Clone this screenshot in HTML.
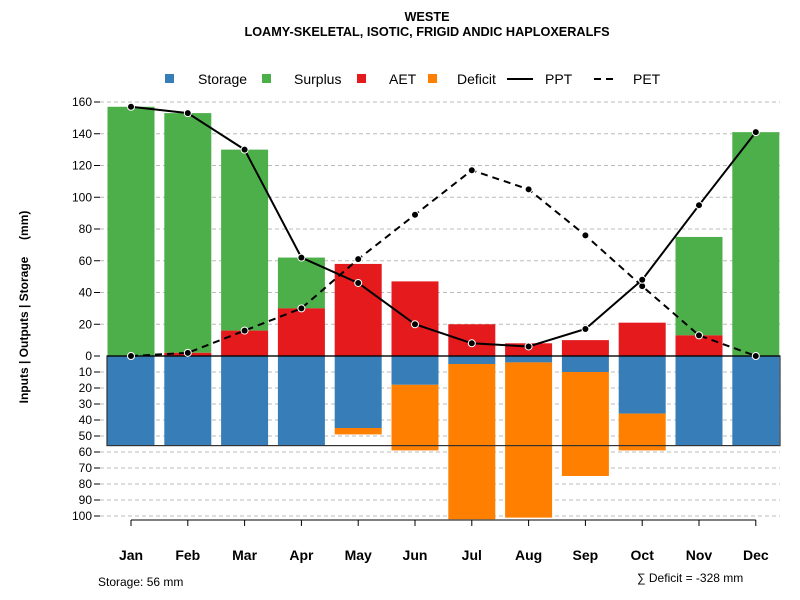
<!DOCTYPE html>
<html><head><meta charset="utf-8"><style>
body{margin:0;background:#fff;}
svg{display:block;font-family:"Liberation Sans",sans-serif;}
</style></head><body>
<svg id="chart" width="800" height="600" viewBox="0 0 800 600">
<text x="427" y="21" text-anchor="middle" font-size="12.7" font-weight="bold">WESTE</text>
<text x="427" y="36" text-anchor="middle" font-size="12.7" font-weight="bold">LOAMY-SKELETAL, ISOTIC, FRIGID ANDIC HAPLOXERALFS</text>
<g id="legend" font-size="14">
<rect x="165" y="74" width="9" height="9" fill="#377eb8"/>
<text x="198" y="84">Storage</text>
<rect x="262" y="74" width="9" height="9" fill="#4daf4a"/>
<text x="294" y="84">Surplus</text>
<rect x="357" y="74" width="9" height="9" fill="#e41a1c"/>
<text x="389" y="84">AET</text>
<rect x="428" y="74" width="9" height="9" fill="#ff7f00"/>
<text x="457" y="84">Deficit</text>
<line x1="507" y1="79" x2="533" y2="79" stroke="#000" stroke-width="2"/>
<text x="545" y="84">PPT</text>
<line x1="594" y1="79" x2="618" y2="79" stroke="#000" stroke-width="2" stroke-dasharray="7,5"/>
<text x="633" y="84">PET</text>
</g>
<g id="grid"></g><g id="bars"></g><g id="axes"></g><g id="lines"></g>
<text x="28" y="307" transform="rotate(-90 28 307)" text-anchor="middle" font-size="12" font-weight="bold">Inputs | Outputs | Storage&#160;&#160;&#160;&#160;&#160;(mm)</text>
<text x="98" y="586" font-size="12">Storage: 56 mm</text>
<text x="637" y="582" font-size="12">∑ Deficit = -328 mm</text>
</svg>
<script>
const months=["Jan","Feb","Mar","Apr","May","Jun","Jul","Aug","Sep","Oct","Nov","Dec"];
const ppt=[157,153,130,62,46,20,8,6,17,48,95,141];
const pet=[0,2,16,30,61,89,117,105,76,44,13,0];
const aet=[0,2,16,30,58,47,20,8,10,21,13,0];
const surplus=[157,151,114,32,0,0,0,0,0,0,62,141];
const storage=[56,56,56,56,45,18,5,4,10,36,56,56];
const deficit=[0,0,0,0,4,41,97,97,65,23,0,0];
const upTicks=[0,20,40,60,80,100,120,140,160];
const downTicks=[10,20,30,40,50,60,70,80,90,100];
const maxStorage=56;
const NS="http://www.w3.org/2000/svg";
const x=i=>131+i*56.8;
const yU=v=>356-v*254/160;
const yD=v=>356+v*1.6;
const BW=47;
function mk(parent,tag,attrs){const e=document.createElementNS(NS,tag);for(const k in attrs)e.setAttribute(k,attrs[k]);document.getElementById(parent).appendChild(e);return e;}
upTicks.forEach(t=>{if(t>0){const l=mk('grid','line',{x1:100,x2:780,y1:yU(t),y2:yU(t),stroke:'#bbb','stroke-dasharray':'4,3'});

}
const tx=mk('axes','text',{x:92,y:yU(t)+4,'text-anchor':'end','font-size':'12'});tx.textContent=t;


const tk=mk('axes','line',{x1:94,x2:100,y1:yU(t),y2:yU(t),stroke:'#000'});

});
downTicks.forEach(t=>{const l=mk('grid','line',{x1:100,x2:780,y1:yD(t),y2:yD(t),stroke:'#bbb','stroke-dasharray':'4,3'});


const tx=mk('axes','text',{x:92,y:yD(t)+4,'text-anchor':'end','font-size':'12'});tx.textContent=t;


const tk=mk('axes','line',{x1:94,x2:100,y1:yD(t),y2:yD(t),stroke:'#000'});

});
months.forEach((m,i)=>{const x0=x(i)-BW/2;
const base=aet[i];
if(surplus[i]>0){const r=mk('bars','rect',{x:x0,y:yU(base+surplus[i]),width:BW,height:yU(base)-yU(base+surplus[i]),fill:'#4daf4a'});

}
if(aet[i]>0){const r=mk('bars','rect',{x:x0,y:yU(aet[i]),width:BW,height:yU(0)-yU(aet[i]),fill:'#e41a1c'});

}
const s=mk('bars','rect',{x:x0,y:yD(0),width:BW,height:yD(storage[i])-yD(0),fill:'#377eb8'});


if(deficit[i]>0){const r=mk('bars','rect',{x:x0,y:yD(storage[i]),width:BW,height:yD(storage[i]+deficit[i])-yD(storage[i]),fill:'#ff7f00'});

}
const tk=mk('axes','line',{x1:x(i),x2:x(i),y1:yD(100)+4,y2:yD(100)+10,stroke:'#000'});


const tx=mk('axes','text',{x:x(i),y:560,'text-anchor':'middle','font-size':'14','font-weight':'bold'});tx.textContent=m;

});
const xl=mk('axes','line',{x1:x(0),x2:x(11),y1:yD(100)+4,y2:yD(100)+4,stroke:'#000'});


const box=mk('bars','rect',{x:107,y:yD(0),width:673,height:yD(maxStorage)-yD(0),fill:'none',stroke:'#333','stroke-width':1.2});


const zl=mk('bars','line',{x1:107,x2:780,y1:356,y2:356,stroke:'#000','stroke-width':1.2});


function series(vals,dash,name){const p=mk('lines','polyline',{points:vals.map((v,i)=>x(i)+','+yU(v)).join(' '),fill:'none',stroke:'#000','stroke-width':2,'stroke-dasharray':dash});


vals.forEach((v,i)=>{const c=mk('lines','circle',{cx:x(i),cy:yU(v),r:3.5,fill:'#000',stroke:'#fff','stroke-width':1});

});}
series(pet,'7,5','pet');
series(ppt,'none','ppt');
</script>
</body></html>
